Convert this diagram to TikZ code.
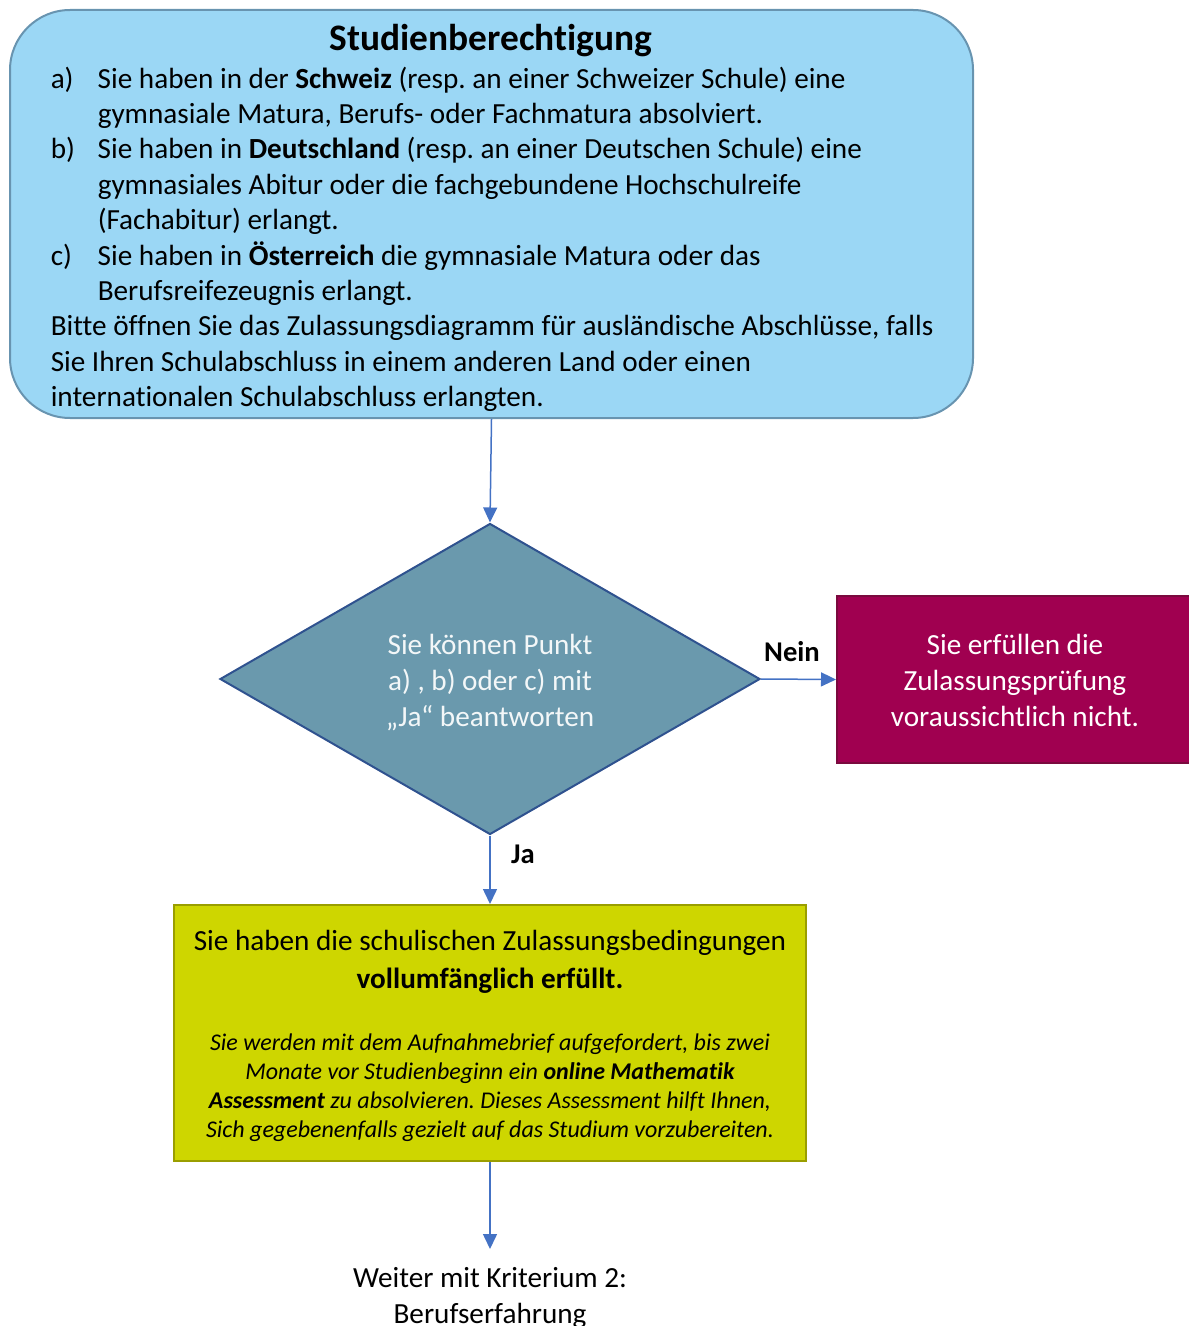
\documentclass[tikz,border=0pt]{standalone}
\usepackage{fontspec}
\setmainfont{Carlito}[Ligatures=NoCommon]
\usepackage{xcolor}
\usetikzlibrary{shapes.geometric,arrows.meta}
\frenchspacing

\definecolor{eligblue}{RGB}{155,215,245}
\definecolor{eligline}{RGB}{104,148,176}
\definecolor{decfill}{RGB}{106,153,173}
\definecolor{decline}{RGB}{47,82,143}
\definecolor{nofill}{RGB}{160,0,80}
\definecolor{noline}{RGB}{122,10,62}
\definecolor{yesfill}{RGB}{206,214,0}
\definecolor{yesline}{RGB}{154,158,0}
\definecolor{flowblue}{RGB}{68,114,196}

\begin{document}
\begin{tikzpicture}[x=0.5pt,y=-0.5pt,line width=0.75pt,
    body/.style={font=\fontsize{14.6}{17.7}\selectfont,inner sep=0pt},
    flow/.style={draw=flowblue,-{Triangle[width=7pt,length=7.5pt]}},
    answer/.style={font=\fontsize{14.3}{16}\selectfont\bfseries,inner sep=0pt}]
  \useasboundingbox (0,0) rectangle (1188,1326);

  % Kriterium 1
  \node [draw=eligline,fill=eligblue,line width=1pt,rounded corners=30pt,
         minimum width=481.5pt,minimum height=204pt] (top) at (491.5,214) {};
  \node [font=\fontsize{18.7}{22}\selectfont\bfseries,inner sep=0pt] (ttl) at (491,41) {Studienberechtigung};
  \node [body,align=left,anchor=north west] (list) at (50,66) {%
    \makebox[23.5pt][l]{a)}Sie haben in der \textbf{Schweiz} (resp. an einer Schweizer Schule) eine\\
    \hspace*{23.5pt}gymnasiale Matura, Berufs- oder Fachmatura absolviert.\\
    \makebox[23.5pt][l]{b)}Sie haben in \textbf{Deutschland} (resp. an einer Deutschen Schule) eine\\
    \hspace*{23.5pt}gymnasiales Abitur oder die fachgebundene Hochschulreife\\
    \hspace*{23.5pt}(Fachabitur) erlangt.\\
    \makebox[23.5pt][l]{c)}Sie haben in \textbf{Österreich} die gymnasiale Matura oder das\\
    \hspace*{23.5pt}Berufsreifezeugnis erlangt.\\
    Bitte öffnen Sie das Zulassungsdiagramm für ausländische Abschlüsse, falls\\
    Sie Ihren Schulabschluss in einem anderen Land oder einen\\
    internationalen Schulabschluss erlangten.
  };

  % Entscheidung
  \node [diamond,draw=decline,fill=decfill,line width=1pt,aspect=1.736,inner sep=0pt,
         minimum width=270pt,minimum height=155.5pt] (dec) at (490,679) {};
  \node [body,font=\fontsize{14.6}{18}\selectfont,align=center,text=white!92!decfill] (dectext) at (490,683) {%
    Sie können Punkt\\ a) , b) oder c) mit\\ „Ja“ beantworten};

  \node [draw=noline,fill=nofill,line width=1pt,minimum width=177.5pt,minimum height=83.5pt] (no) at (1014.5,679.5) {};
  \node [body,font=\fontsize{14.6}{18}\selectfont,align=center,text=white] (notext) at (1015,680) {%
    Sie erfüllen die\\ Zulassungsprüfung\\ voraussichtlich nicht.};

  \node [draw=yesline,fill=yesfill,line width=1pt,minimum width=316pt,minimum height=128pt] (yes) at (490,1033) {};
  \node [body,font=\fontsize{14.6}{19}\selectfont,align=center] (yesmain) at (490,962) {%
    Sie haben die schulischen Zulassungsbedingungen\\ \textbf{vollumfänglich erfüllt.}};
  \node [font=\fontsize{12}{14.5}\selectfont\itshape,inner sep=0pt,align=center] (yesnote) at (490,1088) {%
    Sie werden mit dem Aufnahmebrief aufgefordert, bis zwei\\
    Monate vor Studienbeginn ein \textbf{online Mathematik}\\
    \textbf{Assessment} zu absolvieren. Dieses Assessment hilft Ihnen,\\
    Sich gegebenenfalls gezielt auf das Studium vorzubereiten.};

  \node [body,align=center,anchor=north] (next) at (490,1267) {%
    Weiter mit Kriterium 2:\\ Berufserfahrung};
  \coordinate (nexttop) at (490,1249);

  \draw [flow] (top.south) -- (dec.north);
  \draw [flow] (dec.east) -- (no.west);
  \draw [flow] (dec.south) -- (yes.north);
  \draw [flow] (yes.south) -- (nexttop);

  \node [answer] (nein) at (792,652) {Nein};
  \node [answer] (ja) at (523,854) {Ja};
\end{tikzpicture}
\end{document}
